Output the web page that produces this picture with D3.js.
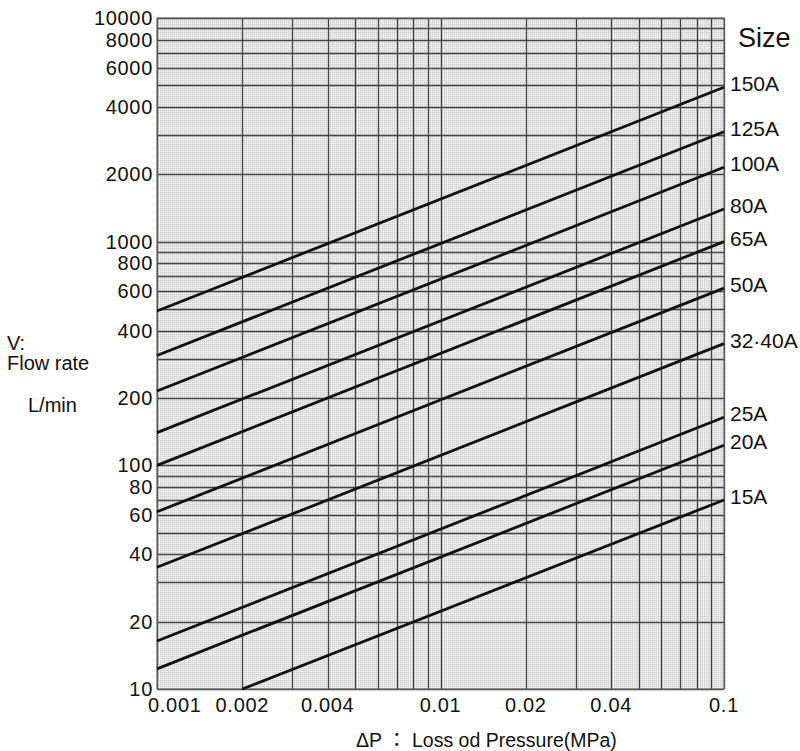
<!DOCTYPE html>
<html>
<head>
<meta charset="utf-8">
<script src="https://cdn.jsdelivr.net/npm/d3@7"></script>
<style>
  body { margin: 0; background: #fff; }
  text { font-family: "Liberation Sans", Arial, "Noto Sans CJK JP", sans-serif; fill: #111; }
</style>
</head>
<body>
<div class="vis-chart"></div>
<script>
// line sizes and their end points
const sizes = ["150A", "125A", "100A", "80A", "65A", "50A", "32·40A", "25A", "20A", "15A"];
const startPressure = [0.001, 0.001, 0.001, 0.001, 0.001, 0.001, 0.001, 0.001, 0.001, 0.002];
const startFlow = [490, 310, 215, 140, 100, 62, 35, 16.4, 12.3, 10];
const endPressure = [0.1, 0.1, 0.1, 0.1, 0.1, 0.1, 0.1, 0.1, 0.1, 0.1];
const endFlow = [4900, 3100, 2150, 1400, 1000, 620, 350, 164, 123, 70];

const yTickLabels = [10, 20, 40, 60, 80, 100, 200, 400, 600, 800, 1000, 2000, 4000, 6000, 8000, 10000];
const xTickLabels = [0.001, 0.002, 0.004, 0.01, 0.02, 0.04, 0.1];

const width = 800
const height = 751
const plotL = 157, plotR = 724, plotT = 18, plotB = 689

const x = d3.scaleLog().domain([0.001, 0.1]).range([plotL, plotR])
const y = d3.scaleLog().domain([10, 10000]).range([plotB, plotT])

const svg = d3.select('.vis-chart')
    .append('svg')
    .attr('width', width)
    .attr('height', height)

// fine stipple background
const defs = svg.append('defs')
const pat = defs.append('pattern')
    .attr('id', 'fine')
    .attr('width', 2).attr('height', 2)
    .attr('patternUnits', 'userSpaceOnUse')
pat.append('rect').attr('width', 2).attr('height', 2).attr('fill', '#fbfbfb')
pat.append('rect').attr('width', 1).attr('height', 2).attr('fill', '#dadada')
pat.append('rect').attr('width', 2).attr('height', 1).attr('fill', '#dadada')

svg.append('rect')
    .attr('x', plotL).attr('y', plotT)
    .attr('width', plotR - plotL).attr('height', plotB - plotT)
    .attr('fill', 'url(#fine)')

// grid lines: 1..9 in every decade
const xGrid = []
for (let d = 0.001; d < 0.1; d *= 10) {
    for (let k = 1; k <= 9; k++) xGrid.push(+(d * k).toPrecision(3))
}
xGrid.push(0.1)
const yGrid = []
for (let d = 10; d < 10000; d *= 10) {
    for (let k = 1; k <= 9; k++) yGrid.push(d * k)
}
yGrid.push(10000)

const grid = svg.append('g')
    .attr('stroke', '#444')
    .attr('stroke-width', 1.3)

grid.selectAll('.vg')
    .data(xGrid)
    .join('line')
    .attr('class', 'vg')
    .attr('x1', d => Math.round(x(d)) + 0.5).attr('x2', d => Math.round(x(d)) + 0.5)
    .attr('y1', plotT).attr('y2', plotB)

grid.selectAll('.hg')
    .data(yGrid)
    .join('line')
    .attr('class', 'hg')
    .attr('y1', d => Math.round(y(d)) + 0.5).attr('y2', d => Math.round(y(d)) + 0.5)
    .attr('x1', plotL).attr('x2', plotR)

svg.append('rect')
    .attr('x', plotL).attr('y', plotT)
    .attr('width', plotR - plotL).attr('height', plotB - plotT)
    .attr('fill', 'none')
    .attr('stroke', '#666')
    .attr('stroke-width', 1)

// flow lines
const series = sizes.map((s, i) => ({
    name: s,
    pts: [[startPressure[i], startFlow[i]], [endPressure[i], endFlow[i]]]
}))

svg.append('g')
    .selectAll('path')
    .data(series)
    .join('path')
    .attr('d', d => d3.line().x(p => x(p[0])).y(p => y(p[1]))(d.pts))
    .attr('fill', 'none')
    .attr('stroke', '#111')
    .attr('stroke-width', 2.8)

svg.append('g')
    .selectAll('text')
    .data(series)
    .join('text')
    .attr('x', plotR + 6)
    .attr('y', d => y(d.pts[1][1]) + 4)
    .attr('font-size', 21)
    .text(d => d.name)

svg.append('text')
    .attr('x', 738).attr('y', 47)
    .attr('font-size', 27)
    .text('Size')

// tick labels
svg.append('g')
    .selectAll('text')
    .data(yTickLabels)
    .join('text')
    .attr('x', 153)
    .attr('y', d => y(d) + 7)
    .attr('text-anchor', 'end')
    .attr('font-size', 20)
    .attr('letter-spacing', 0.7)
    .text(d => d)

svg.append('g')
    .selectAll('text')
    .data(xTickLabels)
    .join('text')
    .attr('x', (d, i) => i === 0 ? plotL - 9 : x(d))
    .attr('y', 712)
    .attr('text-anchor', (d, i) => i === 0 ? 'start' : 'middle')
    .attr('font-size', 20)
    .attr('letter-spacing', 0.7)
    .text(d => d)

// axis titles
svg.append('text')
    .attr('x', 356).attr('y', 747)
    .attr('font-size', 19.5)
    .text('ΔP ： Loss od Pressure(MPa)')

const yt = svg.append('g')
yt.append('text').attr('x', 7).attr('y', 350).attr('font-size', 20).text('V:')
yt.append('text').attr('x', 7).attr('y', 370).attr('font-size', 20).text('Flow rate')
yt.append('text').attr('x', 28).attr('y', 412).attr('font-size', 20).text('L/min')
</script>
</body>
</html>
